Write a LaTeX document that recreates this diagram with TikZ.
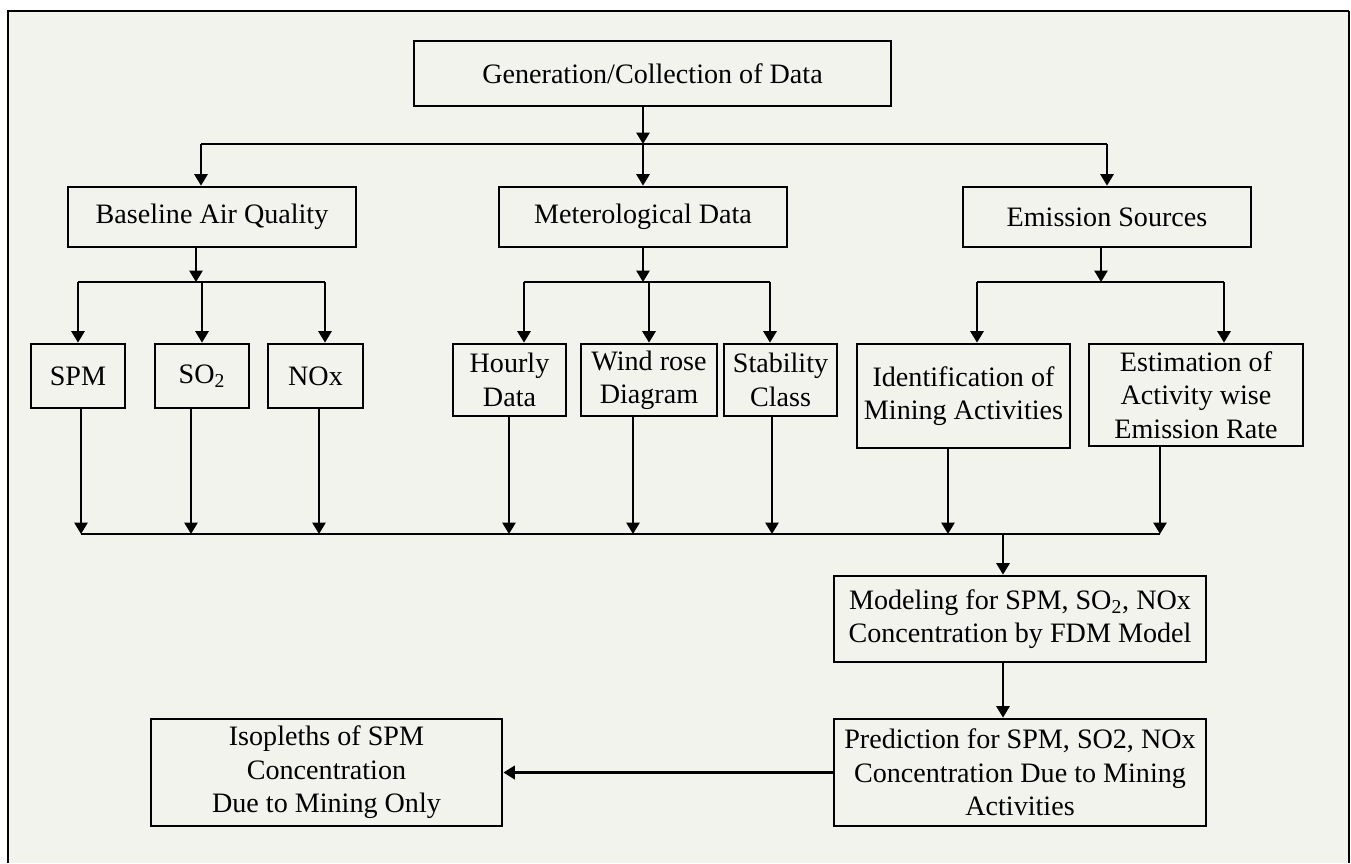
\documentclass[tikz,border=0pt]{standalone}
\usepackage{fontspec}
\setmainfont{Liberation Serif}
\usetikzlibrary{arrows.meta}
\definecolor{paper}{RGB}{241,243,236}
\begin{document}
\begin{tikzpicture}[x=0.02cm,y=-0.02cm,>={Triangle[length=6.5pt,width=7.5pt]},
    box/.style={draw,line width=1.6pt,align=center,inner sep=0pt,font=\fontsize{16}{19}\selectfont},
    link/.style={->,line width=1.2pt},
    bus/.style={line width=1.2pt}]
    \useasboundingbox (0,0) rectangle (1351,863);
    \fill[paper] (8,11) rectangle (1349,863);
    \draw[line width=1.6pt] (8,863)--(8,11)--(1349,11);
    \draw[line width=0.8pt] (1349,11)--(1349,863);
    \node[box,minimum width=9.54cm,minimum height=1.30cm] (gen) at (652.5,73.5) {Generation/Collection of Data};
    \node[box,minimum width=5.76cm,minimum height=1.20cm] (base) at (212,217) {Baseline Air Quality};
    \node[box,minimum width=5.76cm,minimum height=1.20cm] (met) at (643,217) {Meterological Data};
    \node[box,minimum width=5.76cm,minimum height=1.20cm] (emis) at (1107,217) {Emission Sources};
    \node[box,minimum width=1.88cm,minimum height=1.28cm] (spm) at (78,376) {SPM};
    \node[box,minimum width=1.88cm,minimum height=1.28cm] (so2) at (202,376) {SO\textsubscript{2}};
    \node[box,minimum width=1.90cm,minimum height=1.28cm] (nox) at (315.5,376) {NOx};
    \node[box,minimum width=2.26cm,minimum height=1.44cm] (hourly) at (509.5,380) {Hourly\\Data};
    \node[box,minimum width=2.72cm,minimum height=1.44cm] (wind) at (649,380) {Wind rose\\Diagram};
    \node[box,minimum width=2.26cm,minimum height=1.44cm] (stab) at (780.5,380) {Stability\\Class};
    \node[box,minimum width=4.26cm,minimum height=2.08cm] (ident) at (963.5,396) {Identification of\\Mining Activities};
    \node[box,minimum width=4.28cm,minimum height=2.04cm] (estim) at (1196,395) {Estimation of\\Activity wise\\Emission Rate};
    \node[box,minimum width=7.44cm,minimum height=1.72cm] (model) at (1020,619) {Modeling for SPM, SO\textsubscript{2}, NOx\\Concentration by FDM Model};
    \node[box,minimum width=7.44cm,minimum height=2.14cm] (pred) at (1020,772.5) {Prediction for SPM, SO2, NOx\\Concentration Due to Mining\\Activities};
    \node[box,minimum width=7.02cm,minimum height=2.14cm] (iso) at (326.5,772.5) {Isopleths of SPM\\Concentration\\Due to Mining Only};
    \coordinate (b1) at (643,144);
    \coordinate (b1w) at (201,144);
    \coordinate (b1e) at (1107,144);
    \draw[link] (gen.south -| b1)--(b1);
    \draw[bus] (b1w)--(b1e);
    \draw[link] (b1w)--(base.north -| b1w);
    \draw[link] (b1)--(met.north);
    \draw[link] (b1e)--(emis.north);
    \coordinate (b2a) at (196,282);
    \coordinate (b2aw) at (78,282);
    \coordinate (b2ae) at (325,282);
    \draw[link] (base.south -| b2a)--(b2a);
    \draw[bus] (b2aw)--(b2ae);
    \draw[link] (b2aw)--(spm.north);
    \draw[link] (b2aw -| so2)--(so2.north);
    \draw[link] (b2ae)--(nox.north -| b2ae);
    \coordinate (b2b) at (643,282);
    \coordinate (b2bw) at (524,282);
    \coordinate (b2be) at (770,282);
    \draw[link] (met.south)--(b2b);
    \draw[bus] (b2bw)--(b2be);
    \draw[link] (b2bw)--(hourly.north -| b2bw);
    \draw[link] (b2b -| wind)--(wind.north);
    \draw[link] (b2be)--(stab.north -| b2be);
    \coordinate (b2c) at (1101,282);
    \coordinate (b2cw) at (977,282);
    \coordinate (b2ce) at (1224,282);
    \draw[link] (emis.south -| b2c)--(b2c);
    \draw[bus] (b2cw)--(b2ce);
    \draw[link] (b2cw)--(ident.north -| b2cw);
    \draw[link] (b2ce)--(estim.north -| b2ce);
    \coordinate (b3w) at (81,534);
    \coordinate (b3e) at (1160,534);
    \coordinate (b3) at (1003,534);
    \foreach \n/\x in {spm/81,so2/191,nox/319,hourly/509,wind/633,stab/772,ident/948,estim/1160}{
        \coordinate (drop) at (\x,534);
        \draw[link] (\n.south -| drop)--(drop);
    }
    \draw[bus] (b3w)--(b3e);
    \draw[link] (b3)--(model.north -| b3);
    \draw[link] (model.south -| b3)--(pred.north -| b3);
    \draw[link,line width=2.2pt] (pred.west)--(iso.east);
\end{tikzpicture}
\end{document}
